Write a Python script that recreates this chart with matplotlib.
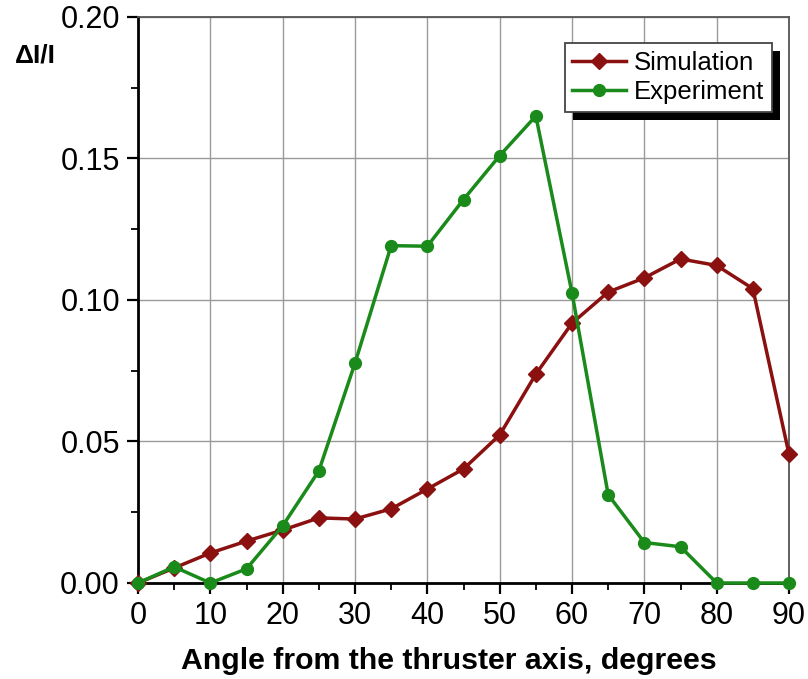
import matplotlib.pyplot as plt
from matplotlib.patches import Rectangle
from matplotlib.ticker import MultipleLocator

plt.rcParams['font.family'] = ['Liberation Sans', 'DejaVu Sans']

# angle from the thruster axis, degrees
angle = [0, 5, 10, 15, 20, 25, 30, 35, 40, 45, 50, 55, 60, 65, 70, 75, 80, 85, 90]

# dI/I values
simulation = [0.0, 0.0053, 0.0106, 0.0148, 0.0187, 0.0230, 0.0226, 0.0262, 0.0332,
              0.0403, 0.0523, 0.0738, 0.0918, 0.1028, 0.1078, 0.1145, 0.1122, 0.1040, 0.0455]
experiment = [0.0, 0.0057, 0.0, 0.0050, 0.0202, 0.0396, 0.0777, 0.1192, 0.1190,
              0.1355, 0.1510, 0.1650, 0.1025, 0.0312, 0.0143, 0.0128, 0.0, 0.0, 0.0]

fig = plt.figure(figsize=(8.08, 6.79), dpi=100)
ax = fig.add_axes([0.1708, 0.1414, 0.8057, 0.8336])

ax.plot(angle, simulation, color='#8b1010', lw=2.5, marker='D', ms=8.5,
        label='Simulation', clip_on=False, zorder=3)
ax.plot(angle, experiment, color='#1a8a1a', lw=2.5, marker='o', ms=8.5,
        label='Experiment', clip_on=False, zorder=3)

ax.set_xlim(0, 90)
ax.set_ylim(0, 0.20)
ax.xaxis.set_major_locator(MultipleLocator(10))
ax.xaxis.set_minor_locator(MultipleLocator(5))
ax.yaxis.set_major_locator(MultipleLocator(0.05))
ax.yaxis.set_minor_locator(MultipleLocator(0.025))
ax.yaxis.set_major_formatter(plt.FormatStrFormatter('%.2f'))

ax.grid(True, which='major', color='#9a9a9a', lw=1.0)
ax.set_axisbelow(True)
ax.tick_params(which='major', direction='out', length=8, width=1.6, labelsize=22, pad=5)
ax.tick_params(which='minor', direction='out', length=5, width=1.3)

for s in ['left', 'bottom']:
    ax.spines[s].set_linewidth(2.0)
    ax.spines[s].set_color('black')
for s in ['top', 'right']:
    ax.spines[s].set_linewidth(1.3)
    ax.spines[s].set_color('#555555')

ax.set_xlabel('Angle from the thruster axis, degrees', fontsize=21.8, fontweight='bold')
ax.xaxis.set_label_coords(0.477, -0.113)
fig.text(0.018, 0.918, 'ΔI/I', fontsize=19, fontweight='bold', ha='left', va='center')

leg = ax.legend(loc='upper right', bbox_to_anchor=(0.974, 0.954), borderaxespad=0,
                fontsize=18.5, fancybox=False, handlelength=2.1, handletextpad=0.3,
                labelspacing=0.2, borderpad=0.3, framealpha=1)
leg.get_frame().set_edgecolor('#444444')
leg.get_frame().set_linewidth(1.3)
leg.set_zorder(5)

# black drop shadow behind the legend box
fig.canvas.draw()
bb = leg.get_window_extent().transformed(fig.transFigure.inverted())
dx, dy = 8 / 808, 8 / 679
ax.add_patch(Rectangle((bb.x0 + dx, bb.y0 - dy), bb.width, bb.height, transform=fig.transFigure,
                       facecolor='black', edgecolor='none', zorder=4.5, clip_on=False))

fig.savefig('out.png', dpi=100)
